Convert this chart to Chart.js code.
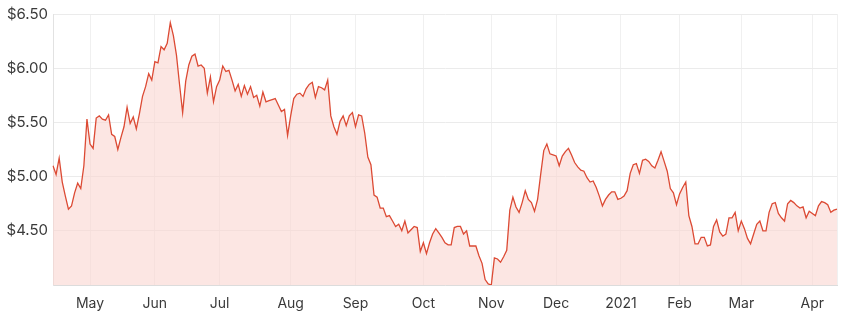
<!DOCTYPE html>
<html lang="en">
<head>
<meta charset="utf-8">
<title>Share price</title>
<script src="https://cdn.jsdelivr.net/npm/chart.js@4/dist/chart.umd.min.js"></script>
<style>
    html, body {
        margin: 0;
        padding: 0;
        background: #ffffff;
    }

    #chart-container {
        position: relative;
        width: 847px;
        height: 327px;
    }
</style>
</head>
<body>
<div id="chart-container">
    <canvas id="price-chart"></canvas>
</div>
<script>
/**
 * Trading day range and exchange holidays (ASX) used to build the categories.
 */
const firstDay = "2020-04-15";
const lastDay  = "2021-04-15";
const holidays = [
    "2020-06-08", "2020-12-25", "2020-12-28",
    "2021-01-01", "2021-01-26", "2021-04-02", "2021-04-05",
];

const monthNames = ["Jan", "Feb", "Mar", "Apr", "May", "Jun", "Jul", "Aug", "Sep", "Oct", "Nov", "Dec"];

// Closing prices, one per trading day
const pricesApr20 = [5.10, 5.02, 5.17, 4.95, 4.82, 4.70, 4.73, 4.85, 4.94, 4.89, 5.10, 5.53];
const pricesMay20 = [5.30, 5.26, 5.54, 5.56, 5.53, 5.52, 5.57, 5.39, 5.37, 5.25, 5.36, 5.46, 5.64, 5.49, 5.55, 5.44, 5.58, 5.74, 5.83, 5.95, 5.89];
const pricesJun20 = [6.06, 6.05, 6.20, 6.17, 6.23, 6.42, 6.30, 6.12, 5.85, 5.59, 5.88, 6.03, 6.11, 6.13, 6.02, 6.03, 6.00, 5.77, 5.92, 5.69, 5.83];
const pricesJul20 = [5.89, 6.02, 5.97, 5.98, 5.89, 5.79, 5.85, 5.74, 5.84, 5.76, 5.83, 5.73, 5.75, 5.65, 5.78, 5.69, 5.70, 5.71, 5.72, 5.66, 5.60, 5.62, 5.38];
const pricesAug20 = [5.56, 5.72, 5.76, 5.77, 5.74, 5.81, 5.85, 5.87, 5.73, 5.83, 5.82, 5.80, 5.89, 5.56, 5.46, 5.39, 5.51, 5.56, 5.47, 5.56, 5.59];
const pricesSep20 = [5.46, 5.57, 5.56, 5.40, 5.18, 5.11, 4.83, 4.81, 4.71, 4.71, 4.63, 4.64, 4.59, 4.54, 4.56, 4.50, 4.59, 4.48, 4.51, 4.54, 4.53, 4.31];
const pricesOct20 = [4.39, 4.29, 4.39, 4.47, 4.52, 4.48, 4.44, 4.39, 4.37, 4.37, 4.53, 4.54, 4.54, 4.47, 4.50, 4.36, 4.36, 4.36, 4.27, 4.20, 4.05, 4.01];
const pricesNov20 = [4.00, 4.25, 4.24, 4.21, 4.26, 4.32, 4.69, 4.81, 4.72, 4.67, 4.76, 4.87, 4.79, 4.76, 4.68, 4.79, 5.02, 5.24, 5.30, 5.21, 5.20];
const pricesDec20 = [5.19, 5.10, 5.19, 5.23, 5.26, 5.20, 5.13, 5.09, 5.06, 5.05, 4.99, 4.95, 4.96, 4.90, 4.82, 4.73, 4.79, 4.83, 4.86, 4.86, 4.79];
const pricesJan21 = [4.80, 4.82, 4.87, 5.03, 5.11, 5.12, 5.03, 5.15, 5.16, 5.14, 5.10, 5.08, 5.15, 5.23, 5.14, 5.05, 4.89, 4.85, 4.74];
const pricesFeb21 = [4.84, 4.90, 4.95, 4.64, 4.54, 4.38, 4.38, 4.44, 4.44, 4.36, 4.37, 4.54, 4.60, 4.49, 4.45, 4.47, 4.62, 4.62, 4.67, 4.50];
const pricesMar21 = [4.59, 4.52, 4.43, 4.38, 4.47, 4.56, 4.59, 4.50, 4.50, 4.67, 4.75, 4.76, 4.66, 4.62, 4.59, 4.75, 4.78, 4.76, 4.73, 4.71, 4.72, 4.62, 4.68];
const pricesApr21 = [4.66, 4.64, 4.73, 4.77, 4.76, 4.74, 4.67, 4.69, 4.70];

const prices = [].concat(
    pricesApr20, pricesMay20, pricesJun20, pricesJul20, pricesAug20, pricesSep20,
    pricesOct20, pricesNov20, pricesDec20, pricesJan21, pricesFeb21, pricesMar21, pricesApr21
);

// Price axis
const priceMin  = 4.0;
const priceMax  = 6.5;
const priceStep = 0.5;

/**
 * Lists all trading days between two ISO dates, skipping weekends and holidays.
 *
 * @param {string} from
 * @param {string} to
 *
 * @returns {string[]}
 */
function tradingDays(from, to)
{
    const days = [];
    const day  = new Date(from + "T00:00:00Z");
    const end  = new Date(to + "T00:00:00Z");

    while (day <= end) {
        const iso     = day.toISOString().slice(0, 10);
        const weekday = day.getUTCDay();

        if (weekday !== 0 && weekday !== 6 && !holidays.includes(iso)) {
            days.push(iso);
        }

        day.setUTCDate(day.getUTCDate() + 1);
    }

    return days;
}

const labels = tradingDays(firstDay, lastDay);

/**
 * Shows the month name on the first trading day of every month, a year on January.
 *
 * @param {number} index
 *
 * @returns {string|null}
 */
function monthTick(index)
{
    const current = labels[index];

    if ((index === 0) || (index === labels.length - 1)) {
        return "";
    }

    if (current.slice(5, 7) === labels[index - 1].slice(5, 7)) {
        return null;
    }

    const month = Number(current.slice(5, 7)) - 1;

    return month === 0 ? current.slice(0, 4) : monthNames[month];
}

const tickFont = {
    family: "Inter, 'Noto Sans', sans-serif",
    size: 14,
};

new Chart(document.getElementById("price-chart"), {
    type: "line",
    data: {
        labels: labels,
        datasets: [{
            data: prices,
            borderColor: "#dc4a34",
            borderWidth: 1.3,
            backgroundColor: "rgba(250, 214, 208, 0.6)",
            fill: "start",
            pointRadius: 0,
            tension: 0,
        }],
    },
    options: {
        responsive: true,
        maintainAspectRatio: false,
        animation: false,
        layout: {
            padding: { top: 12, right: 10, left: 0, bottom: 0 },
        },
        plugins: {
            legend: { display: false },
            tooltip: { enabled: false },
        },
        scales: {
            x: {
                type: "category",
                offset: false,
                grid: {
                    color: "#f0f0f0",
                    drawTicks: false,
                },
                border: {
                    color: "#dcdcdc",
                },
                ticks: {
                    autoSkip: false,
                    maxRotation: 0,
                    padding: 10,
                    color: "#3a3a3a",
                    font: tickFont,
                    callback: (value, index) => monthTick(index),
                },
                afterFit: (scale) => {
                    scale.height = 42;
                },
            },
            y: {
                min: priceMin,
                max: priceMax,
                grid: {
                    color: "#ebebeb",
                    drawTicks: false,
                },
                border: {
                    color: "#e2e2e2",
                },
                ticks: {
                    stepSize: priceStep,
                    padding: 5,
                    color: "#3a3a3a",
                    font: { family: tickFont.family, size: 15 },
                    callback: (value) => (value === priceMin ? "" : "$" + value.toFixed(2)),
                },
                afterFit: (scale) => {
                    scale.width = 53;
                },
            },
        },
    },
});
</script>
</body>
</html>
